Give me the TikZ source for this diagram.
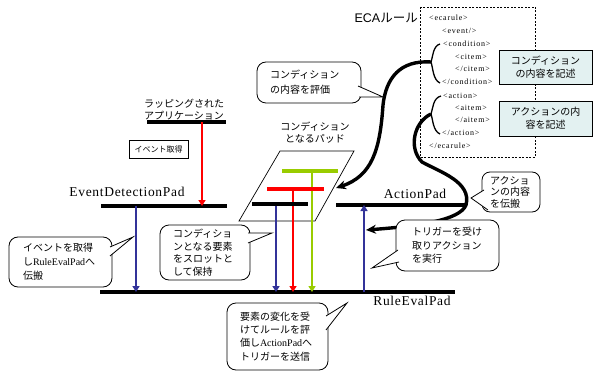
\documentclass[tikz,border=0pt]{standalone}
\usepackage{fontspec}
\setmainfont{Liberation Serif}
\newfontfamily\jp{Noto Sans CJK JP}
\newfontfamily\padfont[LetterSpace=5]{Liberation Serif}
\newfontfamily\xmlfont[LetterSpace=10]{Liberation Serif}
\newfontfamily\ecafont{Liberation Sans}
\usetikzlibrary{arrows.meta}
\definecolor{myblue}{HTML}{333399}
\definecolor{myred}{HTML}{FF0000}
\definecolor{mygreen}{HTML}{99CC00}
\definecolor{boxfill}{HTML}{E3F1F1}
\begin{document}
\begin{tikzpicture}[x=1pt,y=-1pt,
  callbox/.style={draw, line width=0.8pt, rounded corners=9pt, fill=white, align=left, inner ysep=0pt},
  tail/.style={line width=0.8pt},
  padline/.style={line width=3.6pt},
  tbar/.style={line width=4.2pt},
  vline/.style={line width=2.6pt, -{Triangle[length=6pt,width=7pt]}},
  bigcurve/.style={line width=3.4pt, -{Stealth[length=10pt,width=9pt]}},
  padlabel/.style={font=\padfont\fontsize{13.5}{14}\selectfont, inner sep=0pt},
  jplabel/.style={font=\jp\fontsize{10}{12}\selectfont, align=center, inner sep=0pt},
  xmltxt/.style={font=\xmlfont\fontsize{8}{9}\selectfont, anchor=west, inner sep=0pt},
  descbox/.style={draw, line width=0.8pt, fill=boxfill, align=center, font=\jp\fontsize{10}{13}\selectfont, inner sep=0pt},
  brace/.style={line width=1.3pt}
]
\useasboundingbox (0,0) rectangle (593,374);

% ---------- ECA rule box ----------
\node[font=\fontsize{12.5}{14}\selectfont, anchor=east, inner sep=0pt] (ecatitle) at (418,18) {{\ecafont ECA}{\jp ルール}};
\draw[dashed, dash pattern=on 2pt off 1.5pt, line width=0.8pt] (420,7) rectangle (535,157);
\node[xmltxt] (x1) at (429,18) {<ecarule>};
\node[xmltxt] (x2) at (442,31) {<event/>};
\node[xmltxt] (x3) at (443,44) {<condition>};
\node[xmltxt] (x4) at (455,56.5) {<citem>};
\node[xmltxt] (x5) at (455,69) {</citem>};
\node[xmltxt] (x6) at (442,82) {</condition>};
\node[xmltxt] (x7) at (443,96) {<action>};
\node[xmltxt] (x8) at (455,108) {<aitem>};
\node[xmltxt] (x9) at (455,120) {</aitem>};
\node[xmltxt] (x10) at (442,133) {</action>};
\node[xmltxt] (x11) at (429,146) {</ecarule>};

% braces
\coordinate (cb) at (431,62);
\coordinate (ab) at (431,114);
\draw[brace] (440,44) .. controls (433,46) and (433,56) .. (cb) .. controls (433,68) and (433,80) .. (440,83);
\draw[brace] (441,96) .. controls (433,98) and (433,108) .. (ab) .. controls (433,120) and (433,131) .. (440,134);

% description boxes
\node[descbox, minimum width=93pt, minimum height=34pt] (dCond) at (545.5,67) {コンディション\\の内容を記述};
\node[descbox, minimum width=93pt, minimum height=35pt] (dAct) at (545.5,118.5) {アクションの内\\容を記述};

% ---------- wrapped application ----------
\node[jplabel] (wrapLbl) at (184,110) {ラッピングされた\\アプリケーション};
\coordinate (wrapL) at (147,122);
\coordinate (wrapR) at (226,122);
\draw[padline] (wrapL) -- (wrapR);
\node[draw, line width=0.7pt, minimum width=59pt, minimum height=18pt, inner sep=0pt, font=\jp\fontsize{8}{9}\selectfont] (evGet) at (158.5,149) {イベント取得};

% ---------- EventDetectionPad ----------
\node[padlabel] (edpLbl) at (127,192) {EventDetectionPad};
\coordinate (edpL) at (101,206);
\coordinate (edpR) at (227,206);
\draw[padline] (edpL) -- (edpR);
\coordinate (redTop) at (202,122);
\coordinate (redBot) at (202,206);
\draw[vline, myred] (redTop) -- (redBot);

% ---------- RuleEvalPad ----------
\coordinate (repL) at (100,292);
\coordinate (repR) at (455,292);
\draw[padline] (repL) -- (repR);
\node[padlabel] (repLbl) at (412,301) {RuleEvalPad};
\coordinate (blTop) at (136,206);
\coordinate (blBot) at (136,292);
\draw[vline, myblue] (blTop) -- (blBot);

% ---------- condition pad ----------
\node[jplabel] (condLbl) at (315,133) {コンディション\\となるパッド};
\draw[line width=0.7pt] (280,151) -- (354,151) -- (315,221) -- (239,221) -- cycle;
\coordinate (gL) at (282,171); \coordinate (gR) at (338,171);
\coordinate (rL) at (267,189); \coordinate (rR) at (324,189);
\coordinate (kL) at (252,204); \coordinate (kR) at (308,204);
\draw[vline, mygreen] (312,171) -- (312,292);
\draw[vline, myred] (293,189) -- (293,292);
\draw[vline, myblue] (276,204) -- (276,292);
\draw[tbar, mygreen] (gL) -- (gR);
\draw[tbar, myred] (rL) -- (rR);
\draw[tbar, black] (kL) -- (kR);

% ---------- ActionPad ----------
\coordinate (apL) at (336,205);
\coordinate (apR) at (466,205);
\draw[padline] (apL) -- (apR);
\node[padlabel] (apLbl) at (415,194) {ActionPad};
\coordinate (upBot) at (364,292);
\coordinate (upTop) at (364,205);
\draw[vline, myblue] (upBot) -- (upTop);

% ---------- big curves ----------
\coordinate (condTip) at (336,188);
\coordinate (actTip) at (366,230);
\draw[bigcurve] (cb) .. controls (400,60) and (386,78) .. (383,105) .. controls (380,150) and (372,176) .. (condTip);
\draw[bigcurve] (ab) .. controls (414,122) and (408,148) .. (422,162) .. controls (440,172) and (472,182) .. (466,205) .. controls (460,220) and (420,226) .. (actTip);

% ---------- callouts ----------
\node[callbox, font=\jp\fontsize{10}{15}\selectfont, minimum height=41pt, inner xsep=13pt, text width=78pt] (cEval) at (309,82.5) {コンディション\\の内容を評価};
\coordinate (tEval) at (383,97);
\fill[white] (358,86) -- (tEval) -- (359,97) -- cycle;
\draw[tail] (358,86) -- (tEval) -- (359,97);

\node[callbox, rounded corners=8pt, font=\jp\fontsize{10}{11.5}\selectfont, minimum height=40pt, inner xsep=8pt, text width=42pt] (cAct) at (511,192) {アクショ\\ンの内容\\を伝搬};
\coordinate (tAct) at (471,198);
\fill[white] (484,190) -- (tAct) -- (488,210) -- cycle;
\draw[tail] (484,190) -- (tAct) -- (488,210);

\node[callbox, font=\jp\fontsize{10}{13.5}\selectfont, minimum height=51pt, inner xsep=16pt, text width=71pt] (cTrig) at (447.5,245.5) {トリガーを受け\\取りアクション\\を実行};
\coordinate (tTrig) at (372,268);
\fill[white] (398,250) -- (tTrig) -- (399,262) -- cycle;
\draw[tail] (398,250) -- (tTrig) -- (399,262);

\node[callbox, font=\jp\fontsize{10}{14}\selectfont, minimum height=50pt, inner xsep=14pt, text width=75pt] (cEvent) at (60.5,262) {イベントを取得\\し{\rmfamily RuleEvalPad}へ\\伝搬};
\coordinate (tEvent) at (133,237);
\fill[white] (110,247) -- (tEvent) -- (110,256) -- cycle;
\draw[tail] (110,247) -- (tEvent) -- (110,256);

\node[callbox, font=\jp\fontsize{10}{12.7}\selectfont, minimum height=55pt, inner xsep=13pt, text width=64pt] (cSlot) at (205,252.5) {コンディショ\\ンとなる要素\\をスロットと\\して保持};
\coordinate (tSlot) at (272,233);
\fill[white] (248,233) -- (tSlot) -- (248,243) -- cycle;
\draw[tail] (248,233) -- (tSlot) -- (248,243);

\node[callbox, font=\jp\fontsize{10}{13.3}\selectfont, minimum height=67pt, inner xsep=13pt, text width=75pt] (cRule) at (277.5,336.5) {要素の変化を受\\けてルールを評\\価し{\rmfamily ActionPad}へ\\トリガーを送信};
\coordinate (tRule) at (347,303);
\fill[white] (326,316) -- (tRule) -- (326,330) -- cycle;
\draw[tail] (326,316) -- (tRule) -- (326,330);
\end{tikzpicture}
\end{document}
